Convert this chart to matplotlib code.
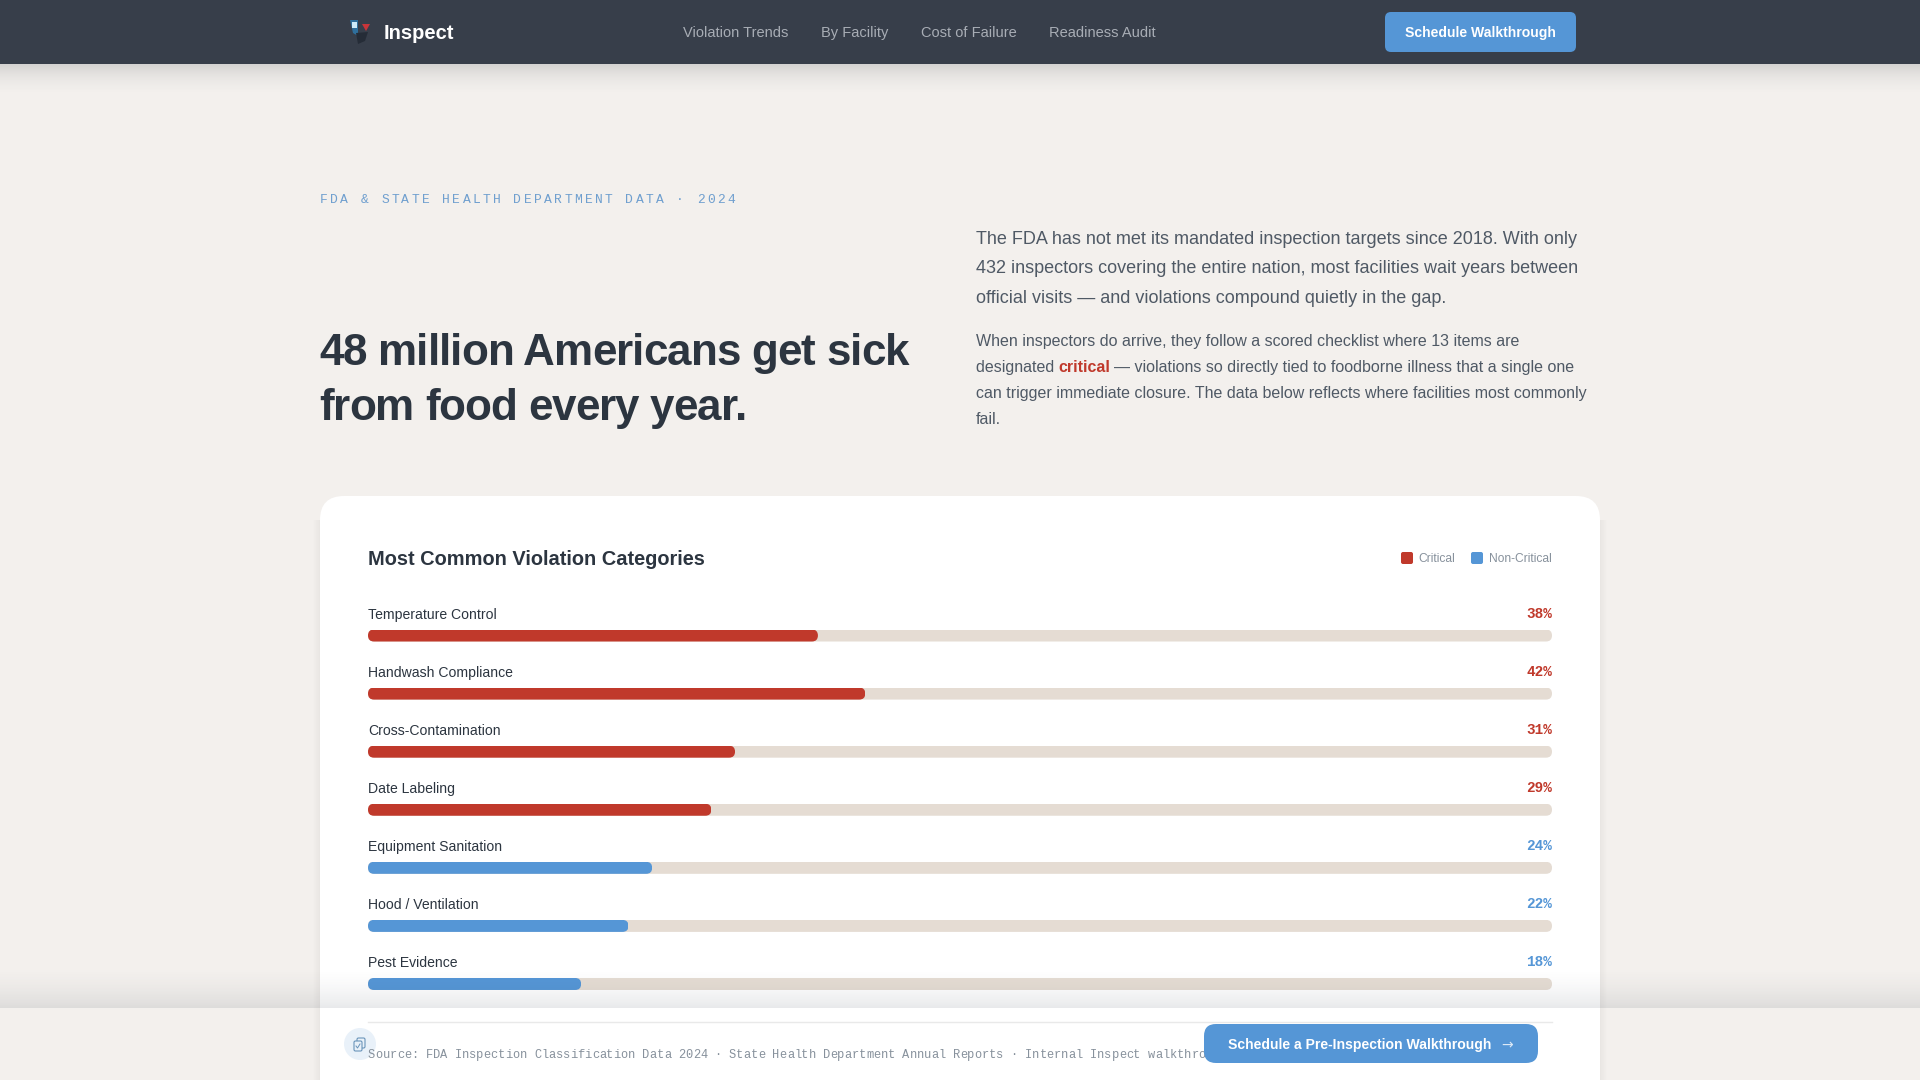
import matplotlib
matplotlib.use("Agg")
import matplotlib.pyplot as plt
import numpy as np
from matplotlib.patches import Circle, FancyBboxPatch, Polygon, Rectangle
from matplotlib.text import Text
from matplotlib.transforms import IdentityTransform

# data
categories = ["Temperature Control", "Handwash Compliance", "Cross-Contamination", "Date Labeling",
              "Equipment Sanitation", "Hood / Ventilation", "Pest Evidence"]
values = [38, 42, 31, 29, 24, 22, 18]
severity = ["Critical", "Critical", "Critical", "Critical", "Non-Critical", "Non-Critical", "Non-Critical"]
nav_links = ["Violation Trends", "By Facility", "Cost of Failure", "Readiness Audit"]

BG = "#f3f0ed"
NAV = "#373e4a"
RED = "#c0392b"
BLUE = "#5596d6"
TRACK = "#e5dcd3"
INK = "#2c3540"
BODY = "#4f5965"
GREY = "#87919c"
colors = {"Critical": RED, "Non-Critical": BLUE}

SANS = "Liberation Sans"
MONO = "Liberation Mono"


def px(size):
    # css px to points at dpi 100
    return size * 0.72


class TrackedText(Text):
    # one string, drawn char by char with extra px between them (letter-spacing)
    tracking = 0

    def draw(self, renderer):
        full = self.get_text()
        x0, y0 = self.get_position()
        fp = self.get_fontproperties()
        for i, ch in enumerate(full):
            if ch == " ":
                continue
            w_prefix = renderer.get_text_width_height_descent(full[:i + 1], fp, False)[0]
            w_ch = renderer.get_text_width_height_descent(ch, fp, False)[0]
            self.set_text(ch)
            self.set_position((x0 + w_prefix - w_ch + i * self.tracking, y0))
            super().draw(renderer)
        self.set_text(full)
        self.set_position((x0, y0))


def tracked(ax, x, y, s, tracking, **kw):
    t = TrackedText(x, y, s, va="baseline", ha="left", **kw)
    t.tracking = tracking
    ax.add_artist(t)
    return t


def rounded(ax, x, y, w, h, r, color, **kw):
    p = FancyBboxPatch((x, y), w, h, boxstyle=f"round,pad=0,rounding_size={r}",
                       facecolor=color, edgecolor="none", **kw)
    ax.add_patch(p)
    return p


def gradient(ax, x0, x1, y0, y1, rgb, alphas, vertical=True, zorder=1):
    # alpha fade across a box, alphas run top to bottom (or left to right)
    n = len(alphas)
    shape = (n, 1, 4) if vertical else (1, n, 4)
    img = np.zeros(shape)
    img[..., :3] = rgb
    img[..., 3] = np.reshape(alphas, shape[:2])
    ax.imshow(img, extent=(x0, x1, y1, y0), aspect="auto", interpolation="bilinear", zorder=zorder)
    ax.set_xlim(0, 1920)
    ax.set_ylim(1080, 0)


fig = plt.figure(figsize=(19.2, 10.8), dpi=100, facecolor=BG)


def page_axes(zorder):
    ax = fig.add_axes([0, 0, 1, 1], zorder=zorder)
    ax.set_xlim(0, 1920)
    ax.set_ylim(1080, 0)
    ax.axis("off")
    ax.patch.set_alpha(0)
    return ax


page = page_axes(0)

# nav bar
gradient(page, 0, 1920, 64, 98, (0.2, 0.22, 0.26), np.linspace(0.4, 0, 32) ** 2)
page.add_patch(Rectangle((0, 0), 1920, 64, facecolor=NAV, edgecolor="none", zorder=2))
# logo mark
page.add_patch(Polygon([[350, 20], [358, 20], [358, 36], [353, 33]], facecolor="#2f6f9c", edgecolor="none", zorder=3))
page.add_patch(Rectangle((352, 22), 5, 6, facecolor="#cdeaf8", edgecolor="none", zorder=4))
page.add_patch(Polygon([[362, 24], [370, 24], [366, 31]], facecolor="#c8353a", edgecolor="none", zorder=3))
page.add_patch(Polygon([[356, 33], [368, 32], [365, 41], [358, 44]], facecolor="#252c37", edgecolor="none", zorder=3))
page.text(384, 33.5, "Inspect", family=SANS, weight="bold", fontsize=px(20.2), color="white", va="center", zorder=3)
for label, x in zip(nav_links, [683, 821, 921, 1049]):
    page.text(x, 33, label, family=SANS, fontsize=px(14.6), color="#a8adb5", va="center", zorder=3)
rounded(page, 1385, 12, 191, 40, 6, BLUE, zorder=3)
page.text(1480.5, 33, "Schedule Walkthrough", family=SANS, weight="bold", fontsize=px(14), color="white",
          ha="center", va="center", zorder=4)

# hero text
tracked(page, 320, 203, "FDA & STATE HEALTH DEPARTMENT DATA · 2024", 2.43, family=MONO, fontsize=px(13), color="#6f9fcf")
tracked(page, 319.5, 365, "48 million Americans get sick", -0.9, family=SANS, weight="bold", fontsize=px(44), color=INK)
tracked(page, 319.5, 420, "from food every year.", -0.9, family=SANS, weight="bold", fontsize=px(44), color=INK)

lead = ["The FDA has not met its mandated inspection targets since 2018. With only",
        "432 inspectors covering the entire nation, most facilities wait years between",
        "official visits — and violations compound quietly in the gap."]
for line, y in zip(lead, [244, 273, 303]):
    page.text(976, y, line, family=SANS, fontsize=px(18), color=BODY, va="baseline")

page.text(976, 346, "When inspectors do arrive, they follow a scored checklist where 13 items are",
          family=SANS, fontsize=px(16), color=BODY, va="baseline")
page.text(976, 372, "designated ", family=SANS, fontsize=px(16), color=BODY, va="baseline")
page.text(1058, 372, "critical", family=SANS, weight="bold", fontsize=px(16), color=RED, va="baseline")
page.text(1114, 372, "— violations so directly tied to foodborne illness that a single one",
          family=SANS, fontsize=px(16), color=BODY, va="baseline")
page.text(976, 398, "can trigger immediate closure. The data below reflects where facilities most commonly",
          family=SANS, fontsize=px(16), color=BODY, va="baseline")
page.text(976, 424, "fail.", family=SANS, fontsize=px(16), color=BODY, va="baseline")

# card with a faint edge shadow
gradient(page, 312, 320, 520, 1080, (0.2, 0.18, 0.16), np.linspace(0, 0.05, 8), vertical=False)
gradient(page, 1600, 1608, 520, 1080, (0.2, 0.18, 0.16), np.linspace(0.05, 0, 8), vertical=False)
rounded(page, 320, 496, 1280, 640, 24, "white", zorder=2)
page.text(368, 559.5, "Most Common Violation Categories", family=SANS, weight="bold", fontsize=px(20), color=INK,
          va="center", zorder=3)
rounded(page, 1401, 552, 12, 12, 2, RED, zorder=3)
page.text(1418.5, 558.5, "Critical", family=SANS, fontsize=px(12), color=GREY, va="center", zorder=3)
rounded(page, 1471, 552, 12, 12, 2, BLUE, zorder=3)
page.text(1552, 558.5, "Non-Critical", family=SANS, fontsize=px(12), color=GREY, va="center", ha="right", zorder=3)

# bars
row_h = 58.08
top = 635.5 - row_h / 2
height = row_h * len(categories)
bars_ax = fig.add_axes([368 / 1920, 1 - (top + height) / 1080, 1184 / 1920, height / 1080], zorder=1)
bars_ax.set_xlim(0, 100)
bars_ax.set_ylim(len(categories) - 0.5, -0.5)
bars_ax.axis("off")
bars_ax.patch.set_alpha(0)

ypos = np.arange(len(categories))
bar_h = 12 / row_h
tracks = bars_ax.barh(ypos, [100] * len(categories), height=bar_h, color=TRACK, zorder=1)
fills = bars_ax.barh(ypos, values, height=bar_h, color=[colors[s] for s in severity], zorder=2)
fig.canvas.draw()
for bar in list(tracks) + list(fills):
    (x0, y0), (x1, y1) = bars_ax.transData.transform(bar.get_bbox().get_points())
    clip = FancyBboxPatch((min(x0, x1), min(y0, y1)), abs(x1 - x0), abs(y1 - y0),
                          boxstyle="round,pad=0,rounding_size=6", transform=IdentityTransform())
    bar.set_clip_path(clip)

for i, (name, v, s) in enumerate(zip(categories, values, severity)):
    bars_ax.text(0, i - 21 / row_h, name, family=SANS, fontsize=px(14), color=INK, va="center", clip_on=False)
    bars_ax.text(100, i - 22 / row_h, f"{v}%", family=MONO, weight="bold", fontsize=px(14.4), color=colors[s],
                 va="center", ha="right", clip_on=False)

# sticky footer, only its shadow and contents show
over = page_axes(2)
gradient(over, 0, 1920, 966, 1008, (0.2, 0.24, 0.3), 0.11 * np.linspace(0, 1, 32) ** 1.6)
over.plot([368, 1552], [1022, 1022], color="#e9e9e9", lw=1.0, zorder=2)
over.add_patch(Circle((360, 1044), 16, facecolor="#e9f1f9", edgecolor="none", zorder=2))
rounded(over, 357, 1038, 8, 10, 1.5, "#e9f1f9", zorder=3).set(edgecolor="#6a94ba", linewidth=0.8)
rounded(over, 354, 1041, 8, 10, 1.5, "#e9f1f9", zorder=3).set(edgecolor="#6a94ba", linewidth=0.8)
over.plot([356, 357.5, 360], [1046, 1048, 1044], color="#6a94ba", lw=0.7, zorder=4)
source = tracked(over, 368, 1058, "Source: FDA Inspection Classification Data 2024 · State Health Department Annual Reports · Internal Inspect walkthro",
                 -0.03, family=MONO, fontsize=px(12), color=GREY, zorder=5)
rounded(over, 1204, 1024, 334, 39, 12, BLUE, zorder=6)
over.text(1228, 1045, "Schedule a Pre-Inspection Walkthrough", family=SANS, weight="bold", fontsize=px(14), color="white",
          va="center", zorder=7)
over.text(1507, 1045, "→", family="DejaVu Sans", fontsize=px(14), color="#dce9f6", va="center", ha="center", zorder=7)

fig.savefig("out.png", dpi=100, facecolor=BG)
